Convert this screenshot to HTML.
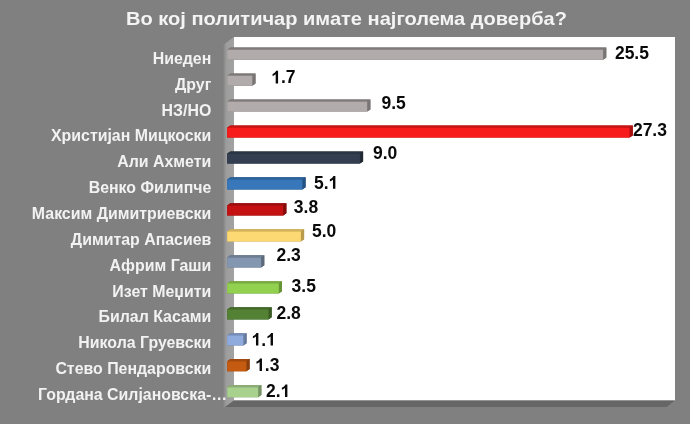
<!DOCTYPE html>
<html><head><meta charset="utf-8"><title>chart</title>
<style>
html,body{margin:0;padding:0;background:#808080;}
body{width:690px;height:424px;overflow:hidden;position:relative;font-family:"Liberation Sans",sans-serif;}
svg{position:absolute;left:0;top:0;display:block;filter:blur(0.6px)}
text{font-family:"Liberation Sans",sans-serif;font-weight:bold}
</style></head><body>
<svg width="690" height="424" viewBox="0 0 690 424">
<defs>
<linearGradient id="wall" x1="0" x2="1" y1="0" y2="0"><stop offset="0" stop-color="#808080"/><stop offset="0.3" stop-color="#9d9d9d"/><stop offset="1" stop-color="#a2a2a2"/></linearGradient>
</defs>
<rect x="0" y="0" width="690" height="424" fill="#808080"/>
<!-- back wall -->
<rect x="234" y="37" width="441" height="363.5" fill="#ffffff"/>
<!-- side wall -->
<polygon points="223,45 234,37 234,400.5 223,408.4" fill="url(#wall)"/>
<!-- floor -->
<polygon points="234,400.5 675,400.5 666.5,407 225,407" fill="#666666"/>
<text x="346.5" y="25.3" text-anchor="middle" font-size="20.05" fill="#f4f4f4" id="title" transform="translate(0 25.3) scale(1 0.96) translate(0 -25.3)">Во кој политичар имате најголема доверба?</text>
<polygon points="227.2,49.7 230.4,47.5 606.3,47.5 606.3,57.5 603.1,59.7 227.2,59.7" fill="#7a7575"/><polygon points="227.2,49.7 230.4,47.5 606.3,47.5 603.1,49.7" fill="#7f7a7a"/><polygon points="603.1,49.7 606.3,47.5 606.3,57.5 603.1,59.7" fill="#7a7575"/><rect x="227.2" y="49.7" width="375.9" height="10.0" fill="#b1abab"/><text x="211.3" y="63.85" text-anchor="end" font-size="15.9" fill="#f2f2f2">Ниеден</text><text x="614.90" y="59.20" font-size="17.5" fill="#0a0a0a">2</text><text x="624.63" y="59.20" font-size="17.5" fill="#0a0a0a">5</text><text x="634.36" y="59.20" font-size="17.5" fill="#0a0a0a">.</text><text x="639.23" y="59.20" font-size="17.5" fill="#0a0a0a">5</text>
<polygon points="227.2,75.7 230.4,73.5 255.5,73.5 255.5,83.5 252.3,85.7 227.2,85.7" fill="#7a7575"/><polygon points="227.2,75.7 230.4,73.5 255.5,73.5 252.3,75.7" fill="#7f7a7a"/><polygon points="252.3,75.7 255.5,73.5 255.5,83.5 252.3,85.7" fill="#7a7575"/><rect x="227.2" y="75.7" width="25.1" height="10.0" fill="#b1abab"/><text x="211.3" y="89.71" text-anchor="end" font-size="15.9" fill="#f2f2f2">Друг</text><path transform="translate(271.20 83.40) scale(17.5 -17.5)" d="M0.393 0 L0.256 0 L0.256 0.517 Q0.181 0.447 0.079 0.413 L0.079 0.538 Q0.133 0.555 0.196 0.605 Q0.259 0.654 0.282 0.719 L0.393 0.719 Z" fill="#0a0a0a"/><text x="280.93" y="83.40" font-size="17.5" fill="#0a0a0a">.</text><text x="285.80" y="83.40" font-size="17.5" fill="#0a0a0a">7</text>
<polygon points="227.2,101.6 230.4,99.4 370.4,99.4 370.4,109.4 367.2,111.6 227.2,111.6" fill="#7a7575"/><polygon points="227.2,101.6 230.4,99.4 370.4,99.4 367.2,101.6" fill="#7f7a7a"/><polygon points="367.2,101.6 370.4,99.4 370.4,109.4 367.2,111.6" fill="#7a7575"/><rect x="227.2" y="101.6" width="140.0" height="10.0" fill="#b1abab"/><text x="211.3" y="115.57" text-anchor="end" font-size="15.9" fill="#f2f2f2">НЗ/НО</text><text x="381.40" y="108.90" font-size="17.5" fill="#0a0a0a">9</text><text x="391.13" y="108.90" font-size="17.5" fill="#0a0a0a">.</text><text x="396.00" y="108.90" font-size="17.5" fill="#0a0a0a">5</text>
<polygon points="227.2,127.6 230.4,125.4 632.8,125.4 632.8,135.4 629.6,137.6 227.2,137.6" fill="#a81010"/><polygon points="227.2,127.6 230.4,125.4 632.8,125.4 629.6,127.6" fill="#c81414"/><polygon points="629.6,127.6 632.8,125.4 632.8,135.4 629.6,137.6" fill="#a81010"/><rect x="227.2" y="127.6" width="402.4" height="10.0" fill="#f81b1b"/><text x="211.3" y="141.43" text-anchor="end" font-size="15.9" fill="#f2f2f2">Христијан Мицкоски</text><text x="632.90" y="136.30" font-size="17.5" fill="#0a0a0a">2</text><text x="642.63" y="136.30" font-size="17.5" fill="#0a0a0a">7</text><text x="652.36" y="136.30" font-size="17.5" fill="#0a0a0a">.</text><text x="657.23" y="136.30" font-size="17.5" fill="#0a0a0a">3</text>
<polygon points="227.2,153.6 230.4,151.4 363.1,151.4 363.1,161.4 359.9,163.6 227.2,163.6" fill="#222a36"/><polygon points="227.2,153.6 230.4,151.4 363.1,151.4 359.9,153.6" fill="#2a3442"/><polygon points="359.9,153.6 363.1,151.4 363.1,161.4 359.9,163.6" fill="#222a36"/><rect x="227.2" y="153.6" width="132.7" height="10.0" fill="#333f50"/><text x="211.3" y="167.29" text-anchor="end" font-size="15.9" fill="#f2f2f2">Али Ахмети</text><text x="372.90" y="158.70" font-size="17.5" fill="#0a0a0a">9</text><text x="382.63" y="158.70" font-size="17.5" fill="#0a0a0a">.</text><text x="387.50" y="158.70" font-size="17.5" fill="#0a0a0a">0</text>
<polygon points="227.2,179.5 230.4,177.3 305.6,177.3 305.6,187.3 302.4,189.5 227.2,189.5" fill="#245282"/><polygon points="227.2,179.5 230.4,177.3 305.6,177.3 302.4,179.5" fill="#2c639b"/><polygon points="302.4,179.5 305.6,177.3 305.6,187.3 302.4,189.5" fill="#245282"/><rect x="227.2" y="179.5" width="75.2" height="10.0" fill="#3777ba"/><text x="211.3" y="193.15" text-anchor="end" font-size="15.9" fill="#f2f2f2">Венко Филипче</text><text x="313.90" y="188.70" font-size="17.5" fill="#0a0a0a">5</text><text x="323.63" y="188.70" font-size="17.5" fill="#0a0a0a">.</text><path transform="translate(328.50 188.70) scale(17.5 -17.5)" d="M0.393 0 L0.256 0 L0.256 0.517 Q0.181 0.447 0.079 0.413 L0.079 0.538 Q0.133 0.555 0.196 0.605 Q0.259 0.654 0.282 0.719 L0.393 0.719 Z" fill="#0a0a0a"/>
<polygon points="227.2,205.5 230.4,203.3 286.4,203.3 286.4,213.3 283.2,215.5 227.2,215.5" fill="#860c0c"/><polygon points="227.2,205.5 230.4,203.3 286.4,203.3 283.2,205.5" fill="#9e0e0e"/><polygon points="283.2,205.5 286.4,203.3 286.4,213.3 283.2,215.5" fill="#860c0c"/><rect x="227.2" y="205.5" width="56.0" height="10.0" fill="#c41212"/><text x="211.3" y="219.01" text-anchor="end" font-size="15.9" fill="#f2f2f2">Максим Димитриевски</text><text x="293.80" y="213.40" font-size="17.5" fill="#0a0a0a">3</text><text x="303.53" y="213.40" font-size="17.5" fill="#0a0a0a">.</text><text x="308.40" y="213.40" font-size="17.5" fill="#0a0a0a">8</text>
<polygon points="227.2,231.5 230.4,229.3 304.1,229.3 304.1,239.3 300.9,241.5 227.2,241.5" fill="#b89b4c"/><polygon points="227.2,231.5 230.4,229.3 304.1,229.3 300.9,231.5" fill="#d2b35c"/><polygon points="300.9,231.5 304.1,229.3 304.1,239.3 300.9,241.5" fill="#b89b4c"/><rect x="227.2" y="231.5" width="73.7" height="10.0" fill="#fdd973"/><text x="211.3" y="244.87" text-anchor="end" font-size="15.9" fill="#f2f2f2">Димитар Апасиев</text><text x="311.90" y="236.60" font-size="17.5" fill="#0a0a0a">5</text><text x="321.63" y="236.60" font-size="17.5" fill="#0a0a0a">.</text><text x="326.50" y="236.60" font-size="17.5" fill="#0a0a0a">0</text>
<polygon points="227.2,257.5 230.4,255.3 264.3,255.3 264.3,265.3 261.1,267.5 227.2,267.5" fill="#5c6a7c"/><polygon points="227.2,257.5 230.4,255.3 264.3,255.3 261.1,257.5" fill="#6c7c91"/><polygon points="261.1,257.5 264.3,255.3 264.3,265.3 261.1,267.5" fill="#5c6a7c"/><rect x="227.2" y="257.5" width="33.9" height="10.0" fill="#8497b0"/><text x="211.3" y="270.73" text-anchor="end" font-size="15.9" fill="#f2f2f2">Африм Гаши</text><text x="276.50" y="261.20" font-size="17.5" fill="#0a0a0a">2</text><text x="286.23" y="261.20" font-size="17.5" fill="#0a0a0a">.</text><text x="291.10" y="261.20" font-size="17.5" fill="#0a0a0a">3</text>
<polygon points="227.2,283.4 230.4,281.2 282.0,281.2 282.0,291.2 278.8,293.4 227.2,293.4" fill="#689438"/><polygon points="227.2,283.4 230.4,281.2 282.0,281.2 278.8,283.4" fill="#78ab42"/><polygon points="278.8,283.4 282.0,281.2 282.0,291.2 278.8,293.4" fill="#689438"/><rect x="227.2" y="283.4" width="51.6" height="10.0" fill="#92d050"/><text x="211.3" y="296.59" text-anchor="end" font-size="15.9" fill="#f2f2f2">Изет Меџити</text><text x="291.60" y="291.60" font-size="17.5" fill="#0a0a0a">3</text><text x="301.33" y="291.60" font-size="17.5" fill="#0a0a0a">.</text><text x="306.19" y="291.60" font-size="17.5" fill="#0a0a0a">5</text>
<polygon points="227.2,309.4 230.4,307.2 271.7,307.2 271.7,317.2 268.5,319.4 227.2,319.4" fill="#3b5c25"/><polygon points="227.2,309.4 230.4,307.2 271.7,307.2 268.5,309.4" fill="#456b2b"/><polygon points="268.5,309.4 271.7,307.2 271.7,317.2 268.5,319.4" fill="#3b5c25"/><rect x="227.2" y="309.4" width="41.3" height="10.0" fill="#548235"/><text x="211.3" y="322.45" text-anchor="end" font-size="15.9" fill="#f2f2f2">Билал Касами</text><text x="276.50" y="318.80" font-size="17.5" fill="#0a0a0a">2</text><text x="286.23" y="318.80" font-size="17.5" fill="#0a0a0a">.</text><text x="291.10" y="318.80" font-size="17.5" fill="#0a0a0a">8</text>
<polygon points="227.2,335.4 230.4,333.2 246.6,333.2 246.6,343.2 243.4,345.4 227.2,345.4" fill="#65799c"/><polygon points="227.2,335.4 230.4,333.2 246.6,333.2 243.4,335.4" fill="#758cb5"/><polygon points="243.4,335.4 246.6,333.2 246.6,343.2 243.4,345.4" fill="#65799c"/><rect x="227.2" y="335.4" width="16.2" height="10.0" fill="#8faadc"/><text x="211.3" y="348.31" text-anchor="end" font-size="15.9" fill="#f2f2f2">Никола Груевски</text><path transform="translate(251.50 345.60) scale(17.5 -17.5)" d="M0.393 0 L0.256 0 L0.256 0.517 Q0.181 0.447 0.079 0.413 L0.079 0.538 Q0.133 0.555 0.196 0.605 Q0.259 0.654 0.282 0.719 L0.393 0.719 Z" fill="#0a0a0a"/><text x="261.23" y="345.60" font-size="17.5" fill="#0a0a0a">.</text><path transform="translate(266.10 345.60) scale(17.5 -17.5)" d="M0.393 0 L0.256 0 L0.256 0.517 Q0.181 0.447 0.079 0.413 L0.079 0.538 Q0.133 0.555 0.196 0.605 Q0.259 0.654 0.282 0.719 L0.393 0.719 Z" fill="#0a0a0a"/>
<polygon points="227.2,361.3 230.4,359.1 249.6,359.1 249.6,369.1 246.4,371.3 227.2,371.3" fill="#8a3f0c"/><polygon points="227.2,361.3 230.4,359.1 249.6,359.1 246.4,361.3" fill="#a24a0e"/><polygon points="246.4,361.3 249.6,359.1 249.6,369.1 246.4,371.3" fill="#8a3f0c"/><rect x="227.2" y="361.3" width="19.2" height="10.0" fill="#c55a11"/><text x="211.3" y="374.17" text-anchor="end" font-size="15.9" fill="#f2f2f2">Стево Пендаровски</text><path transform="translate(255.10 371.00) scale(17.5 -17.5)" d="M0.393 0 L0.256 0 L0.256 0.517 Q0.181 0.447 0.079 0.413 L0.079 0.538 Q0.133 0.555 0.196 0.605 Q0.259 0.654 0.282 0.719 L0.393 0.719 Z" fill="#0a0a0a"/><text x="264.83" y="371.00" font-size="17.5" fill="#0a0a0a">.</text><text x="269.69" y="371.00" font-size="17.5" fill="#0a0a0a">3</text>
<polygon points="227.2,387.3 230.4,385.1 261.4,385.1 261.4,395.1 258.2,397.3 227.2,397.3" fill="#779364"/><polygon points="227.2,387.3 230.4,385.1 261.4,385.1 258.2,387.3" fill="#8bac75"/><polygon points="258.2,387.3 261.4,385.1 261.4,395.1 258.2,397.3" fill="#779364"/><rect x="227.2" y="387.3" width="31.0" height="10.0" fill="#a9d18e"/><text x="227.2" y="400.03" text-anchor="end" font-size="15.9" fill="#f2f2f2">Гордана Силјановска-…</text><text x="265.90" y="397.10" font-size="17.5" fill="#0a0a0a">2</text><text x="275.63" y="397.10" font-size="17.5" fill="#0a0a0a">.</text><path transform="translate(280.50 397.10) scale(17.5 -17.5)" d="M0.393 0 L0.256 0 L0.256 0.517 Q0.181 0.447 0.079 0.413 L0.079 0.538 Q0.133 0.555 0.196 0.605 Q0.259 0.654 0.282 0.719 L0.393 0.719 Z" fill="#0a0a0a"/>
</svg></body></html>
